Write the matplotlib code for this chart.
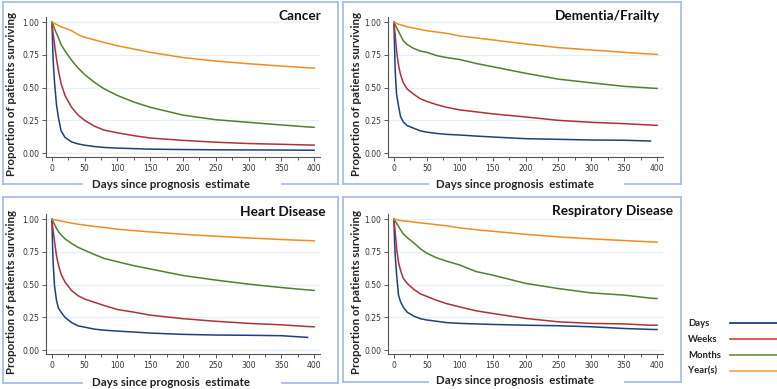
import numpy as np
import matplotlib.pyplot as plt
from matplotlib.lines import Line2D
from matplotlib.ticker import MultipleLocator

nan = np.nan

# Days since prognosis estimate (common grid for all curves)
day_grid = [0, 1, 2, 4, 7, 10, 14, 20, 30, 40, 50, 65, 80, 100, 125, 150, 200, 250, 300, 350, 390, 400]

# Proportion surviving
cancer_days = [1.0, 0.85, 0.70, 0.54, 0.37, 0.27, 0.17, 0.12, 0.085, 0.07, 0.06, 0.05, 0.043, 0.038, 0.034, 0.030, 0.027, 0.025, 0.024, 0.023, 0.022, 0.022]
cancer_weeks = [1.0, 0.95, 0.91, 0.83, 0.72, 0.63, 0.53, 0.44, 0.35, 0.29, 0.25, 0.205, 0.175, 0.155, 0.133, 0.115, 0.097, 0.083, 0.073, 0.067, 0.062, 0.061]
cancer_months = [1.0, 0.99, 0.98, 0.95, 0.915, 0.88, 0.83, 0.78, 0.71, 0.65, 0.60, 0.54, 0.49, 0.44, 0.39, 0.35, 0.29, 0.255, 0.235, 0.215, 0.20, 0.197]
cancer_years = [1.0, 0.998, 0.996, 0.99, 0.983, 0.975, 0.965, 0.955, 0.935, 0.905, 0.885, 0.865, 0.845, 0.82, 0.795, 0.77, 0.73, 0.703, 0.683, 0.665, 0.652, 0.65]

dementia_days = [1.0, 0.80, 0.62, 0.45, 0.36, 0.28, 0.24, 0.21, 0.19, 0.17, 0.16, 0.15, 0.143, 0.138, 0.13, 0.123, 0.11, 0.105, 0.10, 0.098, 0.092, nan]
dementia_weeks = [1.0, 0.95, 0.90, 0.78, 0.67, 0.60, 0.54, 0.49, 0.45, 0.415, 0.395, 0.37, 0.35, 0.33, 0.315, 0.30, 0.276, 0.25, 0.235, 0.225, 0.214, 0.212]
dementia_months = [1.0, 0.99, 0.98, 0.96, 0.93, 0.90, 0.86, 0.83, 0.80, 0.78, 0.77, 0.745, 0.73, 0.715, 0.685, 0.66, 0.61, 0.565, 0.537, 0.51, 0.497, 0.494]
dementia_years = [1.0, 0.998, 0.996, 0.99, 0.985, 0.98, 0.975, 0.965, 0.955, 0.945, 0.935, 0.925, 0.915, 0.895, 0.88, 0.865, 0.834, 0.806, 0.788, 0.77, 0.757, 0.754]

heart_days = [1.0, 0.80, 0.66, 0.49, 0.38, 0.32, 0.29, 0.25, 0.21, 0.185, 0.175, 0.16, 0.152, 0.145, 0.138, 0.13, 0.12, 0.115, 0.113, 0.11, 0.097, nan]
heart_weeks = [1.0, 0.95, 0.91, 0.83, 0.72, 0.65, 0.58, 0.52, 0.455, 0.415, 0.39, 0.365, 0.34, 0.31, 0.29, 0.267, 0.24, 0.22, 0.204, 0.193, 0.18, 0.178]
heart_months = [1.0, 0.99, 0.98, 0.96, 0.93, 0.905, 0.88, 0.85, 0.815, 0.785, 0.763, 0.73, 0.70, 0.675, 0.645, 0.62, 0.57, 0.535, 0.504, 0.478, 0.46, 0.456]
heart_years = [1.0, 0.999, 0.998, 0.996, 0.993, 0.99, 0.986, 0.98, 0.97, 0.962, 0.955, 0.945, 0.937, 0.924, 0.913, 0.903, 0.885, 0.87, 0.857, 0.845, 0.837, 0.835]

resp_days = [1.0, 0.83, 0.72, 0.58, 0.42, 0.37, 0.33, 0.29, 0.26, 0.24, 0.23, 0.22, 0.21, 0.204, 0.20, 0.196, 0.19, 0.186, 0.178, 0.165, 0.158, 0.157]
resp_weeks = [1.0, 0.95, 0.90, 0.78, 0.67, 0.61, 0.55, 0.51, 0.465, 0.43, 0.41, 0.38, 0.355, 0.33, 0.30, 0.28, 0.242, 0.216, 0.204, 0.20, 0.19, 0.19]
resp_months = [1.0, 0.99, 0.985, 0.97, 0.945, 0.92, 0.89, 0.86, 0.82, 0.775, 0.74, 0.705, 0.68, 0.65, 0.60, 0.573, 0.51, 0.47, 0.437, 0.42, 0.397, 0.394]
resp_years = [1.0, 0.999, 0.998, 0.996, 0.993, 0.99, 0.987, 0.985, 0.978, 0.972, 0.967, 0.958, 0.95, 0.934, 0.92, 0.908, 0.885, 0.865, 0.85, 0.837, 0.827, 0.825]

panel_titles = ["Cancer", "Dementia/Frailty", "Heart Disease", "Respiratory Disease"]
series_names = ["Days", "Weeks", "Months", "Year(s)"]
line_colors = ["#1f3f7f", "#b0303a", "#4f8030", "#f08c20"]
legend_colors = ["#1f3f7f", "#e04848", "#6e9e48", "#ffaa50"]

panel_data = [
    [cancer_days, cancer_weeks, cancer_months, cancer_years],
    [dementia_days, dementia_weeks, dementia_months, dementia_years],
    [heart_days, heart_weeks, heart_months, heart_years],
    [resp_days, resp_weeks, resp_months, resp_years],
]

W, H = 777, 389
fig = plt.figure(figsize=(W / 100, H / 100), dpi=100)

def fx(x):
    return x / W

def fy(y):
    return 1 - y / H

bold_font = "Lato"
box_color = "#a6bee6"

# layout in pixels: axes (left, top, right, bottom), box, gap in bottom edge, label spots
axes_px = [(46, 17, 320, 157), (388, 17, 663, 157), (46, 214, 320, 354), (388, 214, 663, 354)]
box_px = [(3, 2, 338, 184), (343, 2, 681, 184), (3, 197, 338, 383), (343, 197, 681, 382)]
gap_px = [(82, 282), (428, 625), (82, 282), (428, 625)]
xlabel_px = [(171, 185), (515, 185), (171, 382), (515, 381)]
ylabel_px = [(12, 94), (357, 94), (12, 292), (357, 292)]
title_px = [(321, 16), (660, 16), (325, 212), (673, 211)]

for i in range(4):
    l, t, r, b = axes_px[i]
    ax = fig.add_axes([fx(l), fy(b), (r - l) / W, (b - t) / H])
    for j in range(4):
        ax.plot(day_grid, panel_data[i][j], color=line_colors[j], lw=1.1, zorder=3)
    ax.set_xlim(-9, 409)
    ax.set_ylim(-0.03, 1.04)
    ax.set_yticks([0, 0.25, 0.5, 0.75, 1.0])
    ax.set_yticklabels(["0.00", "0.25", "0.50", "0.75", "1.00"])
    ax.xaxis.set_major_locator(MultipleLocator(50))
    ax.xaxis.set_minor_locator(MultipleLocator(25))
    for yv in [0, 0.25, 0.5, 0.75, 1.0]:
        ax.axhline(yv, color="#e6eef7", lw=0.9, zorder=1)
    for s in ["top", "right"]:
        ax.spines[s].set_visible(False)
    for s in ["left", "bottom"]:
        ax.spines[s].set_color("#555555")
        ax.spines[s].set_linewidth(0.8)
    ax.tick_params(which="both", labelsize=5.5, colors="#555555", labelcolor="#333333",
                   length=3, width=0.7, pad=2)
    ax.tick_params(which="minor", length=2)

    # panel box with gap for the x label
    bl, bt, br, bb = box_px[i]
    g0, g1 = gap_px[i]
    segs = [((bl, bl), (bt, bb)), ((bl, br), (bt, bt)), ((br, br), (bt, bb)),
            ((bl, g0), (bb, bb)), ((g1, br), (bb, bb))]
    for xs, ys in segs:
        fig.add_artist(Line2D([fx(v) for v in xs], [fy(v) for v in ys], color=box_color, lw=1.3))

    fig.text(fx(xlabel_px[i][0]), fy(xlabel_px[i][1]), "Days since prognosis  estimate",
             ha="center", va="center", fontsize=8.3, fontweight="bold", family=bold_font, color="#222222")
    fig.text(fx(ylabel_px[i][0]), fy(ylabel_px[i][1]), "Proportion of patients surviving",
             ha="center", va="center", rotation=90, fontsize=8.3, fontweight="bold",
             family=bold_font, color="#222222")
    fig.text(fx(title_px[i][0]), fy(title_px[i][1]), panel_titles[i],
             ha="right", va="center", fontsize=9.8, fontweight="bold", family=bold_font, color="#111111")

# legend drawn by hand in the lower right corner
legend_y = [323, 339, 355, 371]
for name, c, y in zip(series_names, legend_colors, legend_y):
    fig.text(fx(688), fy(y), name, ha="left", va="center", fontsize=6.8,
             fontweight="bold", family=bold_font, color="#222222")
    fig.add_artist(Line2D([fx(730), fx(777)], [fy(y), fy(y)], color=c, lw=1.3))

fig.savefig("out.png", dpi=100)
